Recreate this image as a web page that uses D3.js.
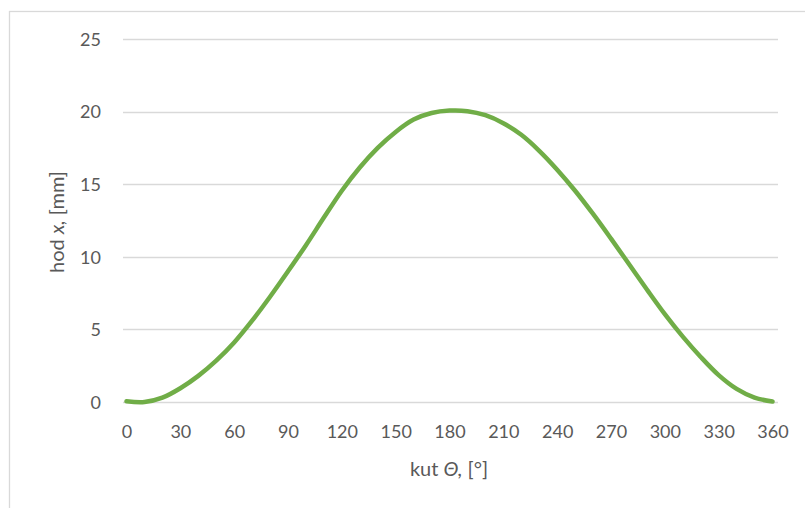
<!DOCTYPE html>
<html>
<head>
<meta charset="utf-8">
<script src="https://cdn.jsdelivr.net/npm/d3@7"></script>
<style>
  html, body { margin: 0; padding: 0; background: #ffffff; }
  svg { display: block; }
</style>
</head>
<body>
<svg id="chart" width="805" height="508"></svg>
<script>
// ---- data ----
const angles = [0, 10, 20, 30, 40, 50, 60, 70, 80, 90, 100, 110, 120, 130, 140, 150, 160, 170, 180,
                190, 200, 210, 220, 230, 240, 250, 260, 270, 280, 290, 300, 310, 320, 330, 340, 350, 360];
const stroke = [0.05, 0.0, 0.3, 0.95, 1.8, 2.85, 4.1, 5.6, 7.25, 9.0, 10.8, 12.7, 14.55, 16.15, 17.5, 18.6, 19.45, 19.9, 20.07,
                20.03, 19.75, 19.2, 18.4, 17.3, 16.0, 14.55, 12.95, 11.25, 9.5, 7.75, 6.05, 4.5, 3.1, 1.85, 0.9, 0.3, 0.03];
const xTicks = [0, 30, 60, 90, 120, 150, 180, 210, 240, 270, 300, 330, 360];
const yTicks = [0, 5, 10, 15, 20, 25];

// ---- layout ----
const svg = d3.select("#chart");
const font = "Lato, 'Open Sans', sans-serif";
const txt = "#595959";
const grid = "#D9D9D9";

const x = d3.scaleLinear().domain([0, 360]).range([126.5, 772.5]);
const y = d3.scaleLinear().domain([0, 25]).range([402, 39]);

// chart area border
svg.append("rect")
  .attr("x", 9.5).attr("y", 11.5)
  .attr("width", 900).attr("height", 600)
  .attr("fill", "#fff").attr("stroke", grid).attr("stroke-width", 1.3);

// gridlines
svg.append("g").selectAll("line").data(yTicks).join("line")
  .attr("x1", 123).attr("x2", 778)
  .attr("y1", d => Math.round(y(d)) + 0.5).attr("y2", d => Math.round(y(d)) + 0.5)
  .attr("stroke", grid).attr("stroke-width", 1.3);

// y axis labels
const yAxis = d3.axisLeft(y).tickValues(yTicks).tickSize(0).tickPadding(0);
const gy = svg.append("g").attr("transform", "translate(101,0)").call(yAxis);
gy.select(".domain").remove();
gy.selectAll("text").attr("fill", txt).attr("font-family", font).attr("font-size", 18)
  .attr("dy", "0.35em").attr("x", 0);

// x axis labels
const xAxis = d3.axisBottom(x).tickValues(xTicks).tickSize(0).tickPadding(0);
const gx = svg.append("g").attr("transform", "translate(0,0)").call(xAxis);
gx.select(".domain").remove();
gx.selectAll("text").attr("fill", txt).attr("font-family", font).attr("font-size", 18)
  .attr("dy", null).attr("y", 438);

// line
const line = d3.line()
  .x((d, i) => x(angles[i]))
  .y(d => y(d))
  .curve(d3.curveCatmullRom.alpha(0.5));
svg.append("path")
  .datum(stroke)
  .attr("d", line)
  .attr("fill", "none")
  .attr("stroke", "#70AD47")
  .attr("stroke-width", 4.5)
  .attr("stroke-linecap", "round")
  .attr("stroke-linejoin", "round");

// axis titles
const xt = svg.append("text")
  .attr("x", 449).attr("y", 476)
  .attr("text-anchor", "middle")
  .attr("fill", txt).attr("font-family", font).attr("font-size", 20);
xt.append("tspan").text("kut ");
xt.append("tspan").attr("font-style", "italic").text("Θ,");
xt.append("tspan").text(" [°]");

const yt = svg.append("text")
  .attr("transform", "translate(64,222) rotate(-90)")
  .attr("text-anchor", "middle")
  .attr("fill", txt).attr("font-family", font).attr("font-size", 20);
yt.append("tspan").text("hod ");
yt.append("tspan").attr("font-style", "italic").text("x,");
yt.append("tspan").text(" [mm]");
</script>
</body>
</html>
